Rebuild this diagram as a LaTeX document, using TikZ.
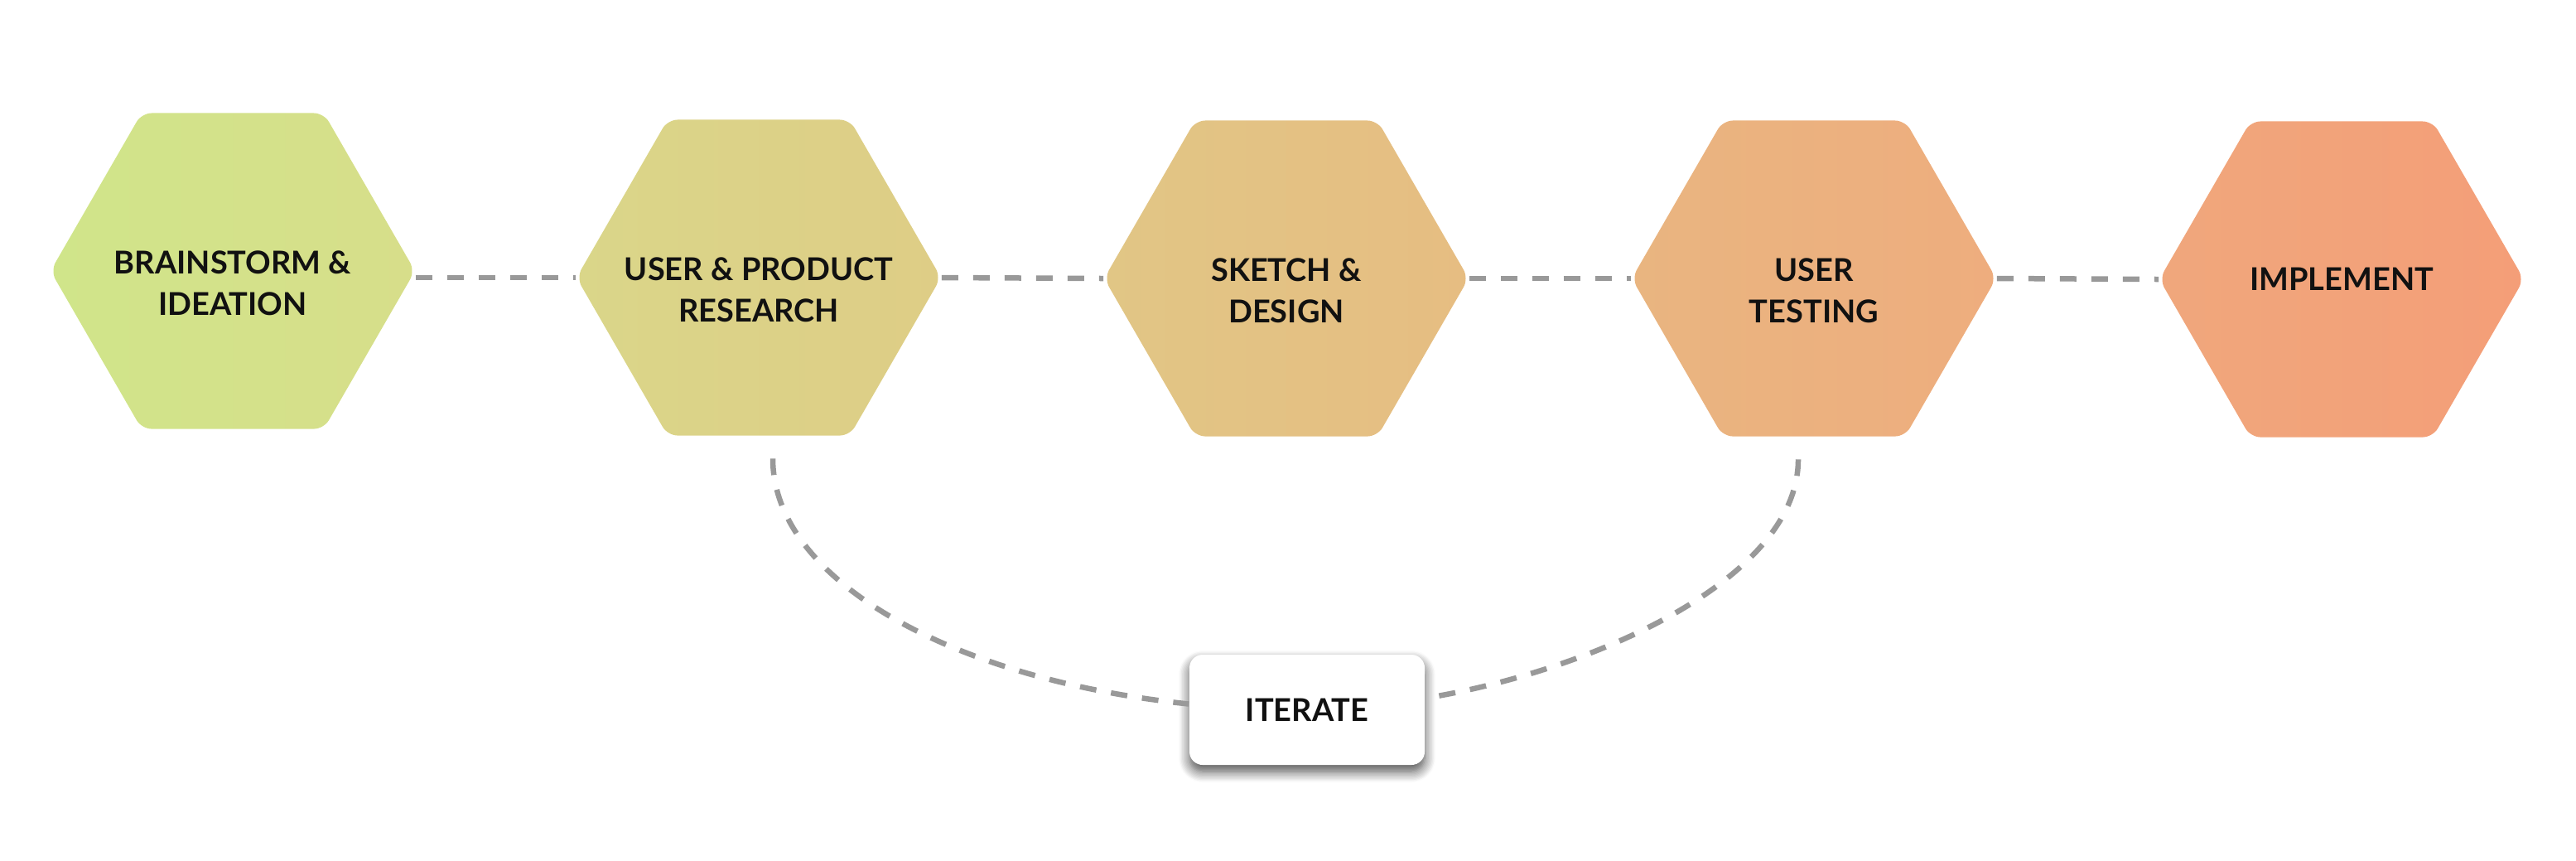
\documentclass[tikz,border=0pt]{standalone}
\usepackage{fontspec}
\setmainfont{Lato}
\usepackage{tikz}
\usetikzlibrary{shapes.geometric}
\usetikzlibrary{shadows.blur}

\begin{document}
\begin{tikzpicture}[
    hex_step/.style={regular polygon,regular polygon sides=6,minimum size=4.4cm,
        inner sep=0,rounded corners=0.12cm},
    hex_text/.style={align=center,text=color_txt,inner sep=0,
        font=\fontsize{10.8}{14.2}\selectfont\bfseries},
    iter_step/.style={rectangle,rounded corners=0.16cm,minimum width=2.84cm,
        minimum height=1.33cm,fill=white,text=color_txt,
        font=\fontsize{10.8}{14}\selectfont\bfseries,
        blur shadow={shadow xshift=0cm,shadow yshift=-0.08cm,shadow blur steps=10,
        shadow blur radius=0.13cm,shadow opacity=70}},
    link/.style={color_line,line width=0.065cm,dash pattern=on 0.2cm off 0.18cm}]
    \definecolor{color_txt}{rgb}{0.067, 0.067, 0.067}
    \definecolor{color_line}{rgb}{0.6, 0.6, 0.6}
    \definecolor{color_0}{RGB}{208, 229, 138}
    \definecolor{color_1}{RGB}{215, 222, 138}
    \definecolor{color_2}{RGB}{218, 214, 137}
    \definecolor{color_3}{RGB}{222, 205, 134}
    \definecolor{color_4}{RGB}{225, 198, 133}
    \definecolor{color_5}{RGB}{230, 189, 130}
    \definecolor{color_6}{RGB}{233, 181, 128}
    \definecolor{color_7}{RGB}{238, 173, 126}
    \definecolor{color_8}{RGB}{240, 167, 124}
    \definecolor{color_9}{RGB}{244, 158, 120}
    \useasboundingbox (0,0) rectangle (31.10,-10.38);

    \node[hex_step,left color=color_0,right color=color_1,
        label={[hex_text,yshift=-0.15cm]center:BRAINSTORM \&\\IDEATION}] (hex_1) at (2.81,-3.27) {};
    \node[hex_step,left color=color_2,right color=color_3,
        label={[hex_text,yshift=-0.15cm]center:USER \& PRODUCT\\RESEARCH}] (hex_2) at (9.16,-3.35) {};
    \node[hex_step,left color=color_4,right color=color_5,
        label={[hex_text,yshift=-0.15cm]center:SKETCH \&\\DESIGN}] (hex_3) at (15.53,-3.36) {};
    \node[hex_step,left color=color_6,right color=color_7,
        label={[hex_text,yshift=-0.15cm]center:USER\\TESTING}] (hex_4) at (21.90,-3.36) {};
    \node[hex_step,left color=color_8,right color=color_9,
        label={[hex_text]center:IMPLEMENT}] (hex_5) at (28.27,-3.37) {};

    \node[iter_step] (iter_box) at (15.78,-8.565) {ITERATE};

    \draw[link] (hex_1.east |- hex_2.west) -- (hex_2.west);
    \draw[link] (hex_2.east) -- (hex_3.west);
    \draw[link] (hex_3.east) -- (hex_4.west);
    \draw[link] (hex_4.east) -- (hex_5.west);

    \coordinate (loop_in) at ([xshift=0.17cm,yshift=-0.27cm]hex_2.south);
    \coordinate (loop_out) at ([xshift=-0.19cm,yshift=-0.27cm]hex_4.south);
    \draw[link] (loop_in) .. controls (9.33,-7.0) and (11.5,-8.2) .. ([yshift=0.07cm]iter_box.west);
    \draw[link] (loop_out) .. controls (21.71,-7.0) and (19.2,-8.1) .. ([yshift=0.14cm]iter_box.east);

  \end{tikzpicture}
\end{document}
